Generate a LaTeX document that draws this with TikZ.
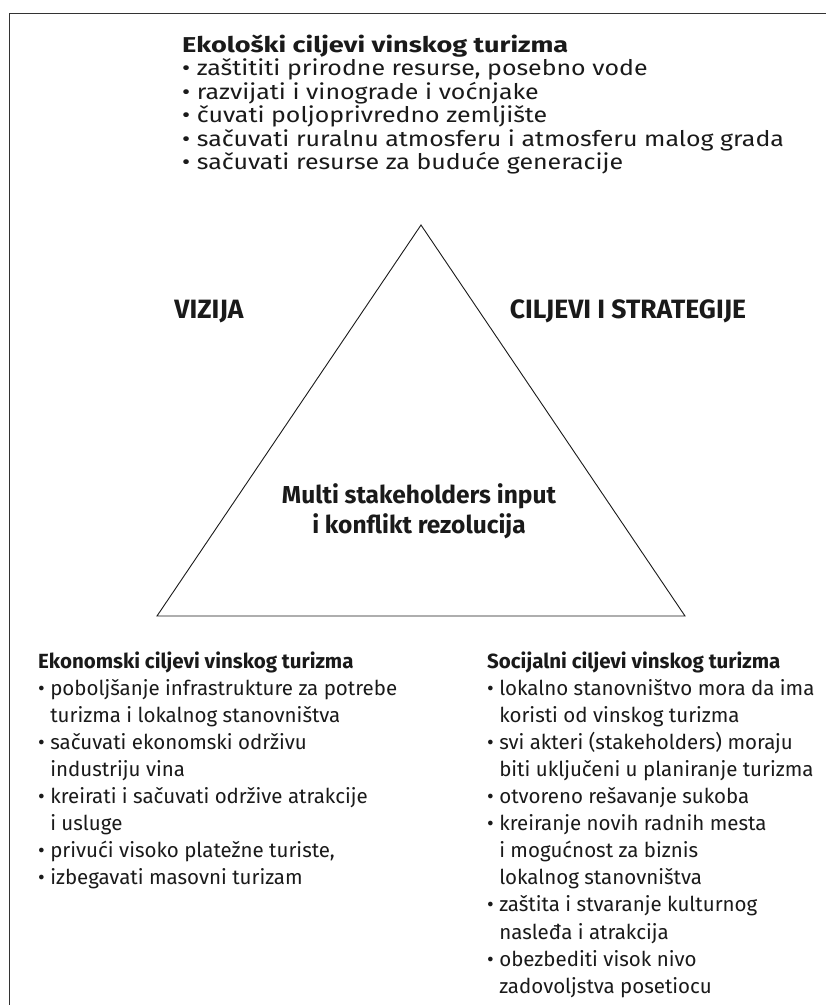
\documentclass[tikz,border=0pt]{standalone}
\usepackage{fontspec}
\setmainfont{Fira Sans}
\newfontfamily\topfont[FakeStretch=1.16]{Fira Sans}
\newfontfamily\toptitlefont[FakeStretch=1.26]{Fira Sans}
\definecolor{framecol}{HTML}{333333}
\definecolor{txt}{HTML}{1A1A1A}
\tikzset{
  topline/.style={anchor=base west, inner sep=0pt, text=txt,
    font=\topfont\fontsize{21.5}{24}\selectfont},
  toptitle/.style={anchor=base west, inner sep=0pt, text=txt,
    font=\toptitlefont\bfseries\fontsize{21.5}{24}\selectfont},
  botline/.style={anchor=base west, inner sep=0pt, text=txt,
    font=\fontsize{20.5}{24.3}\selectfont},
  sidelabel/.style={anchor=base, inner sep=0pt, text=txt,
    font=\bfseries\fontsize{26.5}{30}\selectfont},
  centerlabel/.style={anchor=base, inner sep=0pt, text=txt,
    font=\bfseries\fontsize{24.5}{31}\selectfont},
  tri/.style={draw=txt, line width=0.9pt, line join=miter}
}
\newcommand{\hang}{\hphantom{•\ }}
\begin{document}
\begin{tikzpicture}[x=1pt,y=-1pt]
\useasboundingbox (0,0) rectangle (826,1005);
\fill[white] (0,0) rectangle (826,1005);
\draw[framecol, line width=1.6pt] (826,13.5) -- (9.5,13.5) -- (9.5,1005);
% triangle
\coordinate (apex) at (421,225);
\coordinate (bl) at (157,616);
\coordinate (br) at (685,616);
\draw[tri] (apex) -- (br) -- (bl) -- cycle;
% top text
\node[toptitle] (eko-0) at (182,52) {Ekološki ciljevi vinskog turizma};
\foreach [count=\i] \t in {
  {• zaštititi prirodne resurse, posebno vode},
  {• razvijati i vinograde i voćnjake},
  {• čuvati poljoprivredno zemljište},
  {• sačuvati ruralnu atmosferu i atmosferu malog grada},
  {• sačuvati resurse za buduće generacije}}
  \node[topline] (eko-\i) at (182,{52+\i*23.5}) {\t};
% side labels
\node[sidelabel] (viz) at (209,318) {VIZIJA};
\node[sidelabel] (cil) at (628,318) {CILJEVI I STRATEGIJE};
% center
\node[centerlabel] (multi1) at (419,503) {Multi stakeholders input};
\node[centerlabel] (multi2) at (419,533) {i konflikt rezolucija};
% bottom left
\foreach [count=\i from 0] \t in {
  {\textbf{Ekonomski ciljevi vinskog turizma}},
  {• poboljšanje infrastrukture za potrebe},
  {\hang turizma i lokalnog stanovništva},
  {• sačuvati ekonomski održivu},
  {\hang industriju vina},
  {• kreirati i sačuvati održive atrakcije},
  {\hang i usluge},
  {• privući visoko platežne turiste,},
  {• izbegavati masovni turizam}}
  \node[botline] (ekon-\i) at (38,{668+\i*27.1}) {\t};
% bottom right
\foreach [count=\i from 0] \t in {
  {\textbf{Socijalni ciljevi vinskog turizma}},
  {• lokalno stanovništvo mora da ima},
  {\hang koristi od vinskog turizma},
  {• svi akteri (stakeholders) moraju},
  {\hang biti uključeni u planiranje turizma},
  {• otvoreno rešavanje sukoba},
  {• kreiranje novih radnih mesta},
  {\hang i mogućnost za biznis},
  {\hang lokalnog stanovništva},
  {• zaštita i stvaranje kulturnog},
  {\hang nasleđa i atrakcija},
  {• obezbediti visok nivo},
  {\hang zadovoljstva posetiocu}}
  \node[botline] (soc-\i) at (487,{668+\i*27.1}) {\t};
\end{tikzpicture}
\end{document}
